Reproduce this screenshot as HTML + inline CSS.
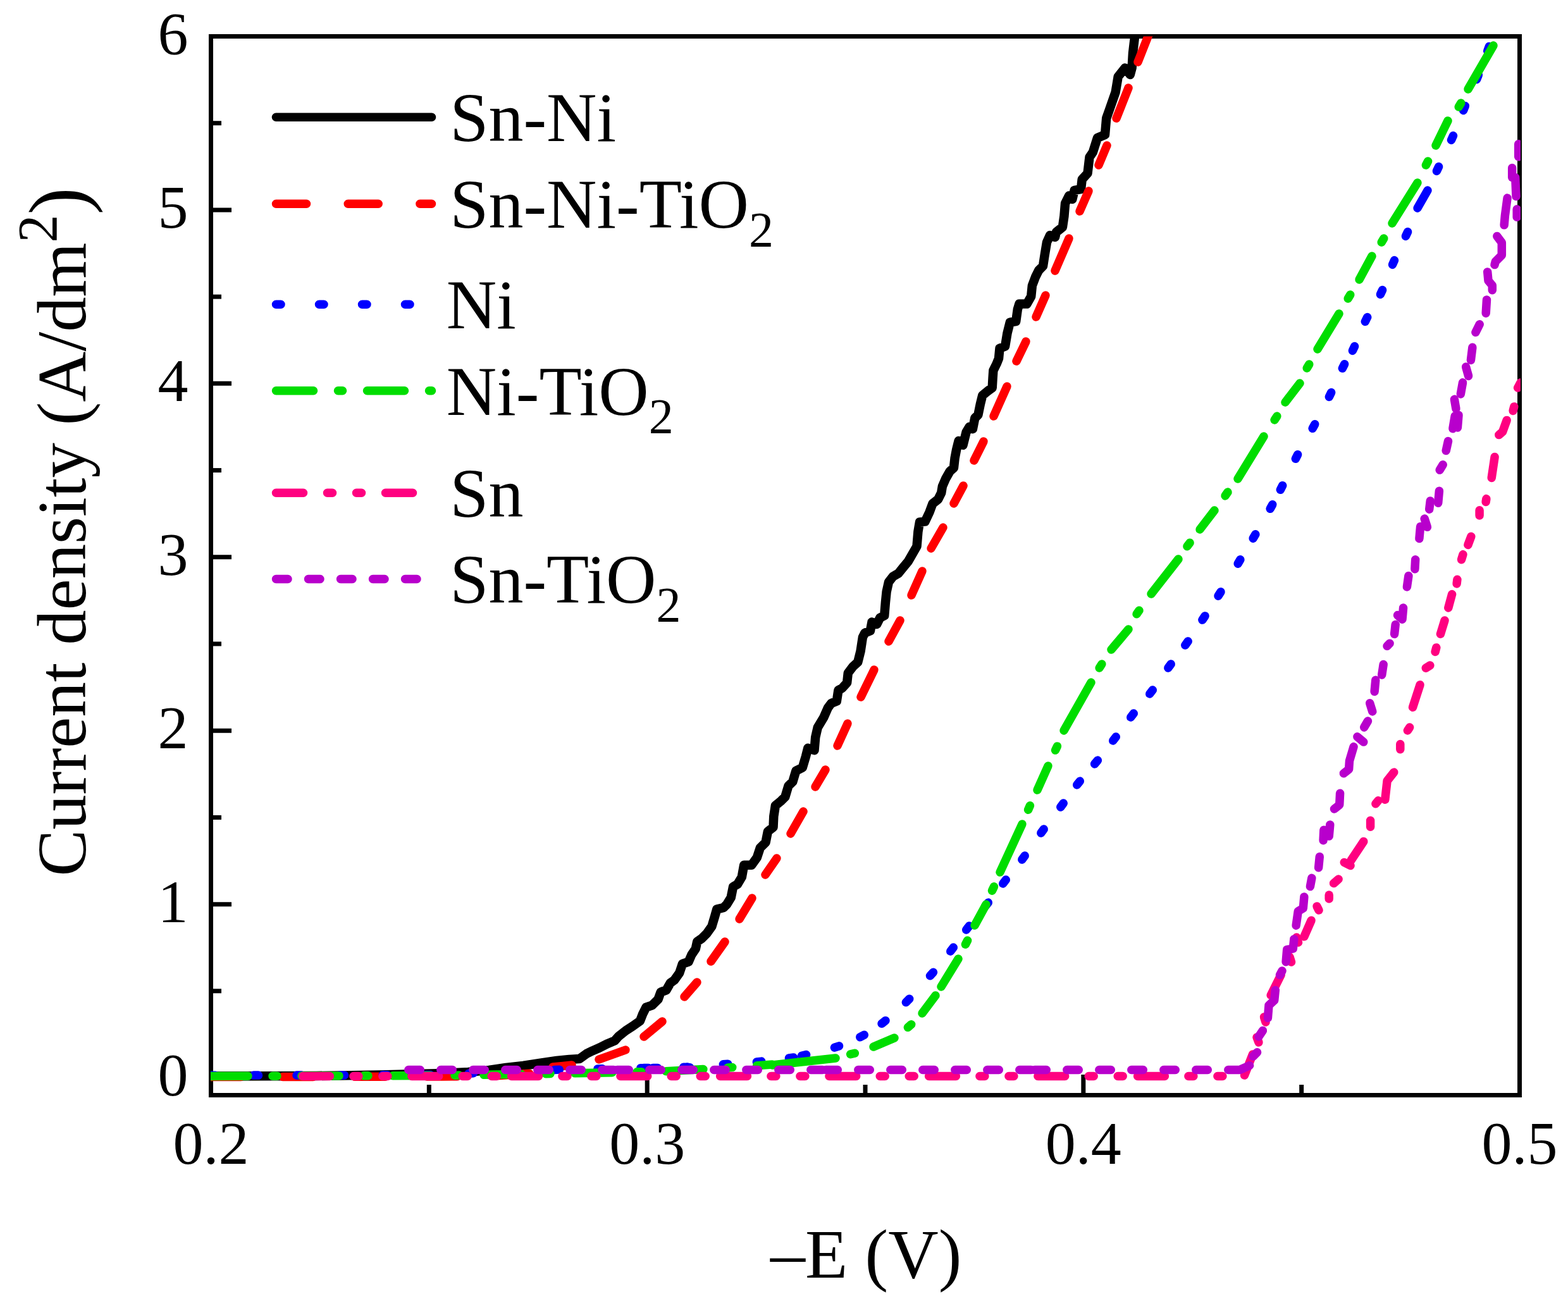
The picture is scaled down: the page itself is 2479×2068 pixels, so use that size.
<!DOCTYPE html>
<html><head><meta charset="utf-8"><title>Current density vs -E</title>
<style>
html,body{margin:0;padding:0;background:#fff;}
svg{display:block;}
text{font-family:"Liberation Serif","Times New Roman",serif;fill:#000;}
.tk{font-size:96px;}
.lg{font-size:110px;}
.ti{font-size:110px;}
</style></head><body>
<svg width="2479" height="2068" viewBox="0 0 2479 2068">
<rect width="2479" height="2068" fill="#fff"/>
<defs><clipPath id="pc"><rect x="333" y="57.5" width="2071" height="1674.0"/></clipPath></defs>
<g stroke="#000" stroke-width="7" fill="none">
<rect x="333.5" y="57.5" width="2069.0" height="1674.0" stroke-linejoin="miter"/>
<line x1="333.5" y1="1704.06" x2="366" y2="1704.06"/>
<line x1="333.5" y1="1566.84" x2="350" y2="1566.84"/>
<line x1="333.5" y1="1429.63" x2="366" y2="1429.63"/>
<line x1="333.5" y1="1292.42" x2="350" y2="1292.42"/>
<line x1="333.5" y1="1155.20" x2="366" y2="1155.20"/>
<line x1="333.5" y1="1017.99" x2="350" y2="1017.99"/>
<line x1="333.5" y1="880.78" x2="366" y2="880.78"/>
<line x1="333.5" y1="743.57" x2="350" y2="743.57"/>
<line x1="333.5" y1="606.35" x2="366" y2="606.35"/>
<line x1="333.5" y1="469.14" x2="350" y2="469.14"/>
<line x1="333.5" y1="331.93" x2="366" y2="331.93"/>
<line x1="333.5" y1="194.71" x2="350" y2="194.71"/>
<line x1="1023.17" y1="1731.5" x2="1023.17" y2="1699"/>
<line x1="1712.83" y1="1731.5" x2="1712.83" y2="1699"/>
<line x1="678.33" y1="1731.5" x2="678.33" y2="1715"/>
<line x1="1368.00" y1="1731.5" x2="1368.00" y2="1715"/>
<line x1="2057.67" y1="1731.5" x2="2057.67" y2="1715"/>
</g>
<g clip-path="url(#pc)" fill="none" stroke-width="13.5" stroke-linecap="round" stroke-linejoin="round">
<polyline stroke-width="14.5" points="333,1701.4 500,1701 600,1699.5 700,1697 740,1695 773,1692 800,1688 827,1685 853,1681 880,1677 900,1674.9 916,1674.1 927.2,1666.1 936.8,1661.3 947.9,1656.5 960.7,1650.1 971.9,1645.3 978.3,1638.2 989.5,1629.4 1000.7,1622.2 1011.9,1614.2 1015.9,1603.8 1021.5,1592.6 1031,1589.4 1040.6,1579.8 1044.6,1568.6 1053.4,1565.4 1059.8,1554.2 1066.2,1549.5 1074.2,1538.3 1079,1523.9 1088.6,1520.7 1093.4,1509.5 1099.8,1499.9 1102.2,1488.7 1109.4,1483.9 1117.4,1475.9 1125.3,1464.8 1130.1,1448.8 1133.3,1437.6 1144,1435 1149.3,1429.6 1155.7,1419 1159.1,1402 1166,1398 1172.8,1386.6 1176.2,1367.7 1188.2,1367.7 1196.8,1355.8 1201.9,1340.3 1210.5,1331.8 1213.9,1314.7 1222.5,1307.8 1223.3,1290.7 1225.9,1273.6 1234.5,1266.7 1241.3,1259.9 1246.4,1242.7 1253.3,1235.9 1258.4,1218.8 1268.7,1213.6 1273.8,1196.5 1277.3,1182.8 1287.5,1186.2 1289.2,1165.7 1292.7,1150.3 1302.3,1134.2 1309.1,1118.8 1314.2,1112 1322.8,1108.6 1325.4,1091.4 1331.4,1088 1339.1,1079.5 1340.8,1064 1348.5,1053.8 1356.2,1046.9 1360.5,1029.8 1363.9,1007.5 1367.3,1000.7 1375.9,997.3 1378.5,983.6 1386.2,987 1391.3,976.7 1398.2,973.3 1399.9,952.7 1401.6,935.6 1405,920.2 1411.8,911.6 1420.4,906.5 1427.3,897.9 1435.8,887.7 1442.7,875.7 1449.5,863.7 1451.4,840.8 1454,825.4 1462.5,824.6 1469.4,810 1474.5,796.3 1483.1,789.5 1488.2,779.2 1489.9,768.9 1495.1,756.9 1501.9,744.9 1507.9,739.8 1509.6,724.4 1512.2,710.7 1515.6,697 1522.5,703.8 1527.6,683.3 1532.7,674.7 1537.9,678.2 1541.3,661 1546.4,655.9 1549.9,638.8 1553.3,625.1 1561.8,618.2 1568.7,613.1 1569.6,597.7 1570.4,585.7 1575.5,575.4 1579,566.8 1580.5,550.8 1589.1,547.4 1592.5,526.8 1596.8,509.7 1606.2,508 1608.8,489.2 1611.4,480.6 1623.4,480.6 1630.2,468.6 1631.9,451.5 1637.1,437.8 1642.2,427.5 1649,420.7 1651.6,403.6 1655,383 1660,372 1668,375 1670,367 1679.9,359 1682.4,341.9 1684.1,321.4 1690.1,309.4 1695.3,315 1698.7,300.8 1709,299.1 1710.7,283.7 1719.5,274 1722.5,248.6 1727.9,240.4 1735,218 1747,213 1749.2,187 1754,173.3 1763.6,145.9 1767.7,121.2 1778.6,107.5 1786.8,118 1789.6,107.5 1791,84.2 1793.7,61 1795,50" stroke="#000000"/>
<polyline points="333,1702.5 500,1702.5 700,1702 780,1701 840,1697" stroke="#ff0000" stroke-dasharray="48 66" stroke-dashoffset="0"/>
<polyline points="874,1687 890,1685.5 904,1684" stroke="#ff0000"/>
<line x1="947" y1="1675" x2="989" y2="1660" stroke="#ff0000"/>
<line x1="1018" y1="1639" x2="1047" y2="1615" stroke="#ff0000"/>
<line x1="1082" y1="1576" x2="1102" y2="1553" stroke="#ff0000"/>
<line x1="1124" y1="1520" x2="1146" y2="1489" stroke="#ff0000"/>
<line x1="1169" y1="1453" x2="1189" y2="1420" stroke="#ff0000"/>
<line x1="1210" y1="1383" x2="1228" y2="1357" stroke="#ff0000"/>
<line x1="1250" y1="1318" x2="1270" y2="1283" stroke="#ff0000"/>
<line x1="1289" y1="1244" x2="1305" y2="1217" stroke="#ff0000"/>
<line x1="1324" y1="1179" x2="1340" y2="1144" stroke="#ff0000"/>
<line x1="1361" y1="1102" x2="1382" y2="1059" stroke="#ff0000"/>
<line x1="1405" y1="1014" x2="1423" y2="981" stroke="#ff0000"/>
<line x1="1441" y1="941" x2="1458" y2="903" stroke="#ff0000"/>
<line x1="1472" y1="867" x2="1491" y2="834" stroke="#ff0000"/>
<line x1="1508" y1="796" x2="1523" y2="768" stroke="#ff0000"/>
<line x1="1540" y1="728" x2="1555" y2="698" stroke="#ff0000"/>
<line x1="1571" y1="658" x2="1592" y2="611" stroke="#ff0000"/>
<line x1="1607" y1="571" x2="1622" y2="540" stroke="#ff0000"/>
<line x1="1638" y1="501" x2="1653" y2="467" stroke="#ff0000"/>
<line x1="1668" y1="428" x2="1690" y2="377" stroke="#ff0000"/>
<line x1="1707" y1="334" x2="1721" y2="302" stroke="#ff0000"/>
<line x1="1737" y1="261" x2="1750" y2="230" stroke="#ff0000"/>
<line x1="1765" y1="187" x2="1784" y2="139" stroke="#ff0000"/>
<line x1="1799" y1="98" x2="1818" y2="50" stroke="#ff0000"/>
<polyline points="333,1700.2 500,1700 700,1699.5 800,1694 888,1691 1000,1689 1087,1687 1000,1689" stroke="#0000ff" stroke-dasharray="7.5 60.5" stroke-dashoffset="0"/>
<line x1="1032.3" y1="1688.5" x2="1039.7" y2="1688.5" stroke="#0000ff"/>
<line x1="1083.3" y1="1688.2" x2="1090.7" y2="1687.8" stroke="#0000ff"/>
<line x1="1143.3" y1="1682.8" x2="1150.7" y2="1682.2" stroke="#0000ff"/>
<line x1="1196.3" y1="1678.9" x2="1203.7" y2="1678.1" stroke="#0000ff"/>
<line x1="1247.3" y1="1673.0" x2="1254.7" y2="1672.0" stroke="#0000ff"/>
<line x1="1267.4" y1="1669.4" x2="1274.6" y2="1667.6" stroke="#0000ff"/>
<line x1="1319.4" y1="1656.2" x2="1326.6" y2="1653.8" stroke="#0000ff"/>
<line x1="1359.7" y1="1639.7" x2="1366.3" y2="1636.3" stroke="#0000ff"/>
<line x1="1394.0" y1="1618.3" x2="1400.0" y2="1613.7" stroke="#0000ff"/>
<line x1="1432.3" y1="1584.7" x2="1437.7" y2="1579.3" stroke="#0000ff"/>
<line x1="1470.5" y1="1542.8" x2="1475.5" y2="1537.2" stroke="#0000ff"/>
<line x1="1502.7" y1="1504.0" x2="1507.3" y2="1498.0" stroke="#0000ff"/>
<line x1="1527.7" y1="1470.0" x2="1532.3" y2="1464.0" stroke="#0000ff"/>
<line x1="1557.7" y1="1432.9" x2="1562.3" y2="1427.1" stroke="#0000ff"/>
<line x1="1585.7" y1="1397.0" x2="1590.3" y2="1391.0" stroke="#0000ff"/>
<line x1="1615.8" y1="1359.0" x2="1620.2" y2="1353.0" stroke="#0000ff"/>
<line x1="1645.8" y1="1317.0" x2="1650.2" y2="1311.0" stroke="#0000ff"/>
<line x1="1676.8" y1="1276.0" x2="1681.2" y2="1270.0" stroke="#0000ff"/>
<line x1="1702.7" y1="1240.9" x2="1707.3" y2="1235.1" stroke="#0000ff"/>
<line x1="1730.6" y1="1207.9" x2="1735.4" y2="1202.1" stroke="#0000ff"/>
<line x1="1759.7" y1="1171.0" x2="1764.3" y2="1165.0" stroke="#0000ff"/>
<line x1="1787.7" y1="1134.0" x2="1792.3" y2="1128.0" stroke="#0000ff"/>
<line x1="1817.7" y1="1097.0" x2="1822.3" y2="1091.0" stroke="#0000ff"/>
<line x1="1846.8" y1="1056.0" x2="1851.2" y2="1050.0" stroke="#0000ff"/>
<line x1="1873.8" y1="1020.1" x2="1878.2" y2="1013.9" stroke="#0000ff"/>
<line x1="1900.9" y1="980.1" x2="1905.1" y2="973.9" stroke="#0000ff"/>
<line x1="1926.0" y1="942.2" x2="1930.0" y2="935.8" stroke="#0000ff"/>
<line x1="1957.1" y1="891.2" x2="1960.9" y2="884.8" stroke="#0000ff"/>
<line x1="1981.1" y1="851.2" x2="1984.9" y2="844.8" stroke="#0000ff"/>
<line x1="2008.2" y1="804.3" x2="2011.8" y2="797.7" stroke="#0000ff"/>
<line x1="2024.3" y1="774.3" x2="2027.7" y2="767.7" stroke="#0000ff"/>
<line x1="2048.3" y1="725.3" x2="2051.7" y2="718.7" stroke="#0000ff"/>
<line x1="2075.2" y1="677.3" x2="2078.8" y2="670.7" stroke="#0000ff"/>
<line x1="2101.3" y1="627.4" x2="2104.7" y2="620.6" stroke="#0000ff"/>
<line x1="2122.3" y1="582.3" x2="2125.7" y2="575.7" stroke="#0000ff"/>
<line x1="2138.4" y1="554.4" x2="2141.6" y2="547.6" stroke="#0000ff"/>
<line x1="2158.3" y1="508.4" x2="2161.7" y2="501.6" stroke="#0000ff"/>
<line x1="2182.4" y1="465.4" x2="2185.6" y2="458.6" stroke="#0000ff"/>
<line x1="2201.5" y1="418.4" x2="2204.5" y2="411.6" stroke="#0000ff"/>
<line x1="2222.4" y1="373.4" x2="2225.6" y2="366.6" stroke="#0000ff"/>
<line x1="2241" y1="329" x2="2257" y2="301" stroke="#0000ff"/>
<line x1="2271.4" y1="270.4" x2="2274.6" y2="263.6" stroke="#0000ff"/>
<line x1="2294.5" y1="221.4" x2="2297.5" y2="214.6" stroke="#0000ff"/>
<line x1="2313.6" y1="174.5" x2="2316.4" y2="167.5" stroke="#0000ff"/>
<line x1="2334.6" y1="125.5" x2="2337.4" y2="118.5" stroke="#0000ff"/>
<line x1="2351.7" y1="80.5" x2="2354.3" y2="73.5" stroke="#0000ff"/>
<polyline points="333,1701.4 700,1700.5 900,1697 1050,1694 1120,1690 1180,1686 1221,1683" stroke="#00dd00" stroke-dasharray="59 39 7 39" stroke-dashoffset="0"/>
<line x1="1221" y1="1684" x2="1321" y2="1673" stroke="#00dd00"/>
<line x1="1344.6" y1="1666.8" x2="1351.4" y2="1665.2" stroke="#00dd00"/>
<line x1="1381" y1="1655" x2="1414" y2="1641" stroke="#00dd00"/>
<line x1="1435.3" y1="1624.3" x2="1440.7" y2="1619.7" stroke="#00dd00"/>
<line x1="1458" y1="1602" x2="1479" y2="1574" stroke="#00dd00"/>
<line x1="1488" y1="1560" x2="1515" y2="1516" stroke="#00dd00"/>
<line x1="1526.4" y1="1493.1" x2="1529.6" y2="1486.9" stroke="#00dd00"/>
<line x1="1541" y1="1463" x2="1559" y2="1430" stroke="#00dd00"/>
<line x1="1568.5" y1="1408.2" x2="1571.5" y2="1401.8" stroke="#00dd00"/>
<line x1="1581" y1="1379" x2="1616" y2="1303" stroke="#00dd00"/>
<line x1="1625.6" y1="1280.2" x2="1628.4" y2="1273.8" stroke="#00dd00"/>
<line x1="1640" y1="1249" x2="1657" y2="1211" stroke="#00dd00"/>
<line x1="1668.5" y1="1186.1" x2="1671.5" y2="1179.9" stroke="#00dd00"/>
<line x1="1682" y1="1155" x2="1725" y2="1079" stroke="#00dd00"/>
<line x1="1738.1" y1="1056.0" x2="1741.9" y2="1050.0" stroke="#00dd00"/>
<line x1="1757" y1="1027" x2="1784" y2="995" stroke="#00dd00"/>
<line x1="1797.0" y1="970.8" x2="1801.0" y2="965.2" stroke="#00dd00"/>
<line x1="1820" y1="939" x2="1863" y2="884" stroke="#00dd00"/>
<line x1="1876.9" y1="863.8" x2="1881.1" y2="858.2" stroke="#00dd00"/>
<line x1="1897" y1="837" x2="1920" y2="807" stroke="#00dd00"/>
<line x1="1937.0" y1="783.9" x2="1941.0" y2="778.1" stroke="#00dd00"/>
<line x1="1957" y1="757" x2="1998" y2="690" stroke="#00dd00"/>
<line x1="2015.1" y1="663.9" x2="2018.9" y2="658.1" stroke="#00dd00"/>
<line x1="2032" y1="636" x2="2055" y2="606" stroke="#00dd00"/>
<line x1="2066.2" y1="582.0" x2="2069.8" y2="576.0" stroke="#00dd00"/>
<line x1="2083" y1="552" x2="2117" y2="496" stroke="#00dd00"/>
<line x1="2131.2" y1="472.0" x2="2134.8" y2="466.0" stroke="#00dd00"/>
<line x1="2149" y1="442" x2="2169" y2="405" stroke="#00dd00"/>
<line x1="2184.2" y1="383.0" x2="2187.8" y2="377.0" stroke="#00dd00"/>
<line x1="2201" y1="353" x2="2241" y2="289" stroke="#00dd00"/>
<line x1="2254.4" y1="261.1" x2="2257.6" y2="254.9" stroke="#00dd00"/>
<line x1="2270" y1="230" x2="2289" y2="191" stroke="#00dd00"/>
<line x1="2306.2" y1="169.0" x2="2309.8" y2="163.0" stroke="#00dd00"/>
<line x1="2321" y1="141" x2="2361" y2="72" stroke="#00dd00"/>
<line x1="478.6" y1="1701.4" x2="808.6" y2="1701.4" stroke="#ff0080" stroke-dasharray="42.8 37.5 8 38 8 38"/>
<line x1="808.6" y1="1701.4" x2="1138.6" y2="1701.4" stroke="#ff0080" stroke-dasharray="42.8 37.5 8 38 8 38"/>
<line x1="1138.6" y1="1701.4" x2="1468.6" y2="1701.4" stroke="#ff0080" stroke-dasharray="42.8 37.5 8 38 8 38"/>
<line x1="1468.6" y1="1701.4" x2="1798.6" y2="1701.4" stroke="#ff0080" stroke-dasharray="42.8 37.5 8 38 8 38"/>
<line x1="1798.6" y1="1701.4" x2="1962.0" y2="1701.4" stroke="#ff0080" stroke-dasharray="42.8 37.5 8 38 8 38"/>
<polyline points="1967.5,1700 1980.5,1667" stroke="#ff0080"/>
<polyline points="1990,1648 1987,1640" stroke="#ff0080"/>
<polyline points="2001,1616 1998.5,1608" stroke="#ff0080"/>
<polyline points="2009.2,1573.5 2025.1,1541.5" stroke="#ff0080"/>
<polyline points="2041.5,1521 2039,1513" stroke="#ff0080"/>
<polyline points="2052.5,1490 2050,1482" stroke="#ff0080"/>
<polyline points="2061.9,1480.8 2073.1,1455.2" stroke="#ff0080"/>
<polyline points="2085,1439 2082,1433" stroke="#ff0080"/>
<polyline points="2101.2,1421 2101.2,1415" stroke="#ff0080"/>
<polyline points="2108.6,1396.6 2116.1,1390" stroke="#ff0080"/>
<polyline points="2125.2,1363.5 2135.1,1368.5" stroke="#ff0080"/>
<polyline points="2136,1360.2 2155.8,1330.4" stroke="#ff0080"/>
<polyline points="2166.6,1297.3 2166.6,1307.2" stroke="#ff0080"/>
<polyline points="2174.9,1270.8 2179,1265.8" stroke="#ff0080"/>
<polyline points="2189.8,1264.2 2193.1,1234.4 2203.8,1221.1" stroke="#ff0080"/>
<polyline points="2213.8,1176.4 2213.8,1184.7" stroke="#ff0080"/>
<polyline points="2225.4,1154.9 2228.7,1150" stroke="#ff0080"/>
<polyline points="2245.1,1082.7 2233.5,1118.3" stroke="#ff0080"/>
<polyline points="2260.9,1052 2254.2,1056.2" stroke="#ff0080"/>
<polyline points="2270.8,1023.9 2269.1,1030.5" stroke="#ff0080"/>
<polyline points="2284,980.9 2277.4,1002.4" stroke="#ff0080"/>
<polyline points="2295.6,939.5 2289.8,961" stroke="#ff0080"/>
<polyline points="2303.9,916.3 2303.1,922.9" stroke="#ff0080"/>
<polyline points="2313,876.6 2310.5,884.8" stroke="#ff0080"/>
<polyline points="2325.9,848.2 2320.9,861.5" stroke="#ff0080"/>
<polyline points="2339.1,806.8 2339.1,815.1" stroke="#ff0080"/>
<polyline points="2349.9,788.6 2349.1,793.6" stroke="#ff0080"/>
<polyline points="2363.1,722.4 2358.2,755.5" stroke="#ff0080"/>
<polyline points="2382.2,664.4 2375.6,682.6 2369.8,687.6" stroke="#ff0080"/>
<polyline points="2393.8,642.9 2392.1,649.5" stroke="#ff0080"/>
<polyline points="2399.6,613.1 2404,605" stroke="#ff0080"/>
<line x1="645.8" y1="1691.4" x2="975.8" y2="1691.4" stroke="#b800cc" stroke-dasharray="18.5 32.5"/>
<line x1="975.8" y1="1691.4" x2="1305.8" y2="1691.4" stroke="#b800cc" stroke-dasharray="18.5 32.5"/>
<line x1="1305.8" y1="1691.4" x2="1635.8" y2="1691.4" stroke="#b800cc" stroke-dasharray="18.5 32.5"/>
<line x1="1635.8" y1="1691.4" x2="1962.0" y2="1691.4" stroke="#b800cc" stroke-dasharray="18.5 32.5"/>
<polyline points="1962.8,1690.2 1975.6,1684.6" stroke="#b800cc"/>
<polyline points="1987.6,1663.8 1981.2,1670.2" stroke="#b800cc"/>
<polyline points="1996.4,1629.4 1990,1639" stroke="#b800cc"/>
<polyline points="2016.3,1565.5 2014.7,1581.5 2006,1589.5 2004.4,1609.4" stroke="#b800cc"/>
<polyline points="2027,1535 2023.5,1541.5" stroke="#b800cc"/>
<polyline points="2045.9,1484.7 2044.3,1499.9 2034.7,1501.5 2033.1,1520.7" stroke="#b800cc"/>
<polyline points="2061.9,1418 2060.3,1436 2052.3,1440.8 2049.1,1463.2" stroke="#b800cc"/>
<polyline points="2073.9,1388.3 2071.4,1401.6" stroke="#b800cc"/>
<polyline points="2086.3,1354.4 2084.6,1371.8" stroke="#b800cc"/>
<polyline points="2102.8,1303.9 2101.2,1322.1" stroke="#b800cc"/>
<polyline points="2092.9,1312.2 2092.1,1328.7" stroke="#b800cc"/>
<polyline points="2118.6,1254.2 2117.7,1272.5 2109.5,1279.1" stroke="#b800cc"/>
<polyline points="2140.1,1180.6 2133.5,1202.9 2132.6,1216.2 2124.4,1222.8" stroke="#b800cc"/>
<polyline points="2145.9,1164.8 2155.8,1173.1" stroke="#b800cc"/>
<polyline points="2162.5,1140 2156.7,1149.9" stroke="#b800cc"/>
<polyline points="2165.7,1111.7 2169.8,1124.9" stroke="#b800cc"/>
<polyline points="2174.8,1075.2 2173.1,1093.4" stroke="#b800cc"/>
<polyline points="2187.2,1050.4 2184.7,1067" stroke="#b800cc"/>
<polyline points="2197.1,1017.3 2193,1021.4" stroke="#b800cc"/>
<polyline points="2206.2,987.5 2204.6,1002.4" stroke="#b800cc"/>
<polyline points="2218.6,961 2217,979.2" stroke="#b800cc"/>
<polyline points="2209.5,972.6 2213,976" stroke="#b800cc"/>
<polyline points="2226.9,910.5 2224.4,927.9" stroke="#b800cc"/>
<polyline points="2237.7,884.8 2236.9,899.7" stroke="#b800cc"/>
<polyline points="2245.6,832.5 2243.9,851.5" stroke="#b800cc"/>
<polyline points="2252.2,820.1 2256.4,833.3" stroke="#b800cc"/>
<polyline points="2261.3,791.9 2259.7,805.2" stroke="#b800cc"/>
<polyline points="2275.4,776.2 2273.7,795.2" stroke="#b800cc"/>
<polyline points="2281.2,734.8 2276.2,743.1" stroke="#b800cc"/>
<polyline points="2289.5,697.5 2286.2,712.5" stroke="#b800cc"/>
<polyline points="2300.2,657.8 2296.9,677.7" stroke="#b800cc"/>
<polyline points="2306,656.2 2304.4,676" stroke="#b800cc"/>
<polyline points="2299.4,631.3 2301.9,646.2" stroke="#b800cc"/>
<polyline points="2312.6,604.8 2309.3,623" stroke="#b800cc"/>
<polyline points="2317.6,580 2321.6,594.4" stroke="#b800cc"/>
<polyline points="2327.9,549.2 2325.4,569.4" stroke="#b800cc"/>
<polyline points="2339.2,512.8 2332.9,525.4" stroke="#b800cc"/>
<polyline points="2350.5,473.9 2349.2,495.2" stroke="#b800cc"/>
<polyline points="2351.7,429.9 2353,443.7 2359.3,451.3 2359.3,458.8" stroke="#b800cc"/>
<polyline points="2366.8,373.4 2374.3,383.5 2374.3,403.6 2364.3,413.6 2363,418.6" stroke="#b800cc"/>
<polyline points="2383.1,313.1 2379.4,340.8 2378.1,355.8" stroke="#b800cc"/>
<polyline points="2390.7,265.4 2390.7,280.5" stroke="#b800cc"/>
<polyline points="2395.7,280.5 2397,310.6" stroke="#b800cc"/>
<polyline points="2398.2,330.7 2398.2,343.3" stroke="#b800cc"/>
<polyline points="2400.7,227.7 2400.7,247.8" stroke="#b800cc"/>
</g>
<g class="tk">
<text x="297.5" y="1732.1" text-anchor="end">0</text>
<text x="297.5" y="1457.6" text-anchor="end">1</text>
<text x="297.5" y="1183.2" text-anchor="end">2</text>
<text x="297.5" y="908.8" text-anchor="end">3</text>
<text x="297.5" y="634.4" text-anchor="end">4</text>
<text x="297.5" y="359.9" text-anchor="end">5</text>
<text x="297.5" y="85.5" text-anchor="end">6</text>
<text x="333.5" y="1840" text-anchor="middle">0.2</text>
<text x="1023.2" y="1840" text-anchor="middle">0.3</text>
<text x="1712.8" y="1840" text-anchor="middle">0.4</text>
<text x="2402.5" y="1840" text-anchor="middle">0.5</text>
</g>
<g fill="none" stroke-width="13.5" stroke-linecap="round">
<line x1="436.5" y1="185.2" x2="682.5" y2="185.2" stroke="#000000"/>
<line x1="436.5" y1="322.2" x2="682.5" y2="322.2" stroke="#ff0000" stroke-dasharray="48 65.7"/>
<line x1="436.5" y1="481.2" x2="682.5" y2="481.2" stroke="#0000ff" stroke-dasharray="7.5 60.5"/>
<line x1="436.5" y1="617.8" x2="682.5" y2="617.8" stroke="#00dd00" stroke-dasharray="59 39 7 39"/>
<line x1="436.5" y1="779.3" x2="682.5" y2="779.3" stroke="#ff0080" stroke-dasharray="43 38 8 38 8 38"/>
<line x1="436.5" y1="915.5" x2="682.5" y2="915.5" stroke="#b800cc" stroke-dasharray="18.5 32.5"/>
</g>
<text x="711.3" y="223.0" class="lg">Sn-Ni</text>
<text x="711.3" y="360.0" class="lg">Sn-Ni-TiO<tspan dy="28.8" font-size="78">2</tspan></text>
<text x="705.8" y="519.0" class="lg">Ni</text>
<text x="705.8" y="655.6" class="lg">Ni-TiO<tspan dy="28.8" font-size="78">2</tspan></text>
<text x="711.3" y="817.1" class="lg">Sn</text>
<text x="711.3" y="953.3" class="lg">Sn-TiO<tspan dy="28.8" font-size="78">2</tspan></text>
<text class="ti" x="1217.9" y="2020"><tspan dy="-2.5">&#8211;</tspan><tspan dy="2.5">E (V)</tspan></text>
<text transform="translate(134.7,1385.6) rotate(-90)" style="font-size:110.7px">Current density (A/dm<tspan dy="-45.9" font-size="88">2</tspan><tspan dy="45.9" font-size="130">)</tspan></text>
</svg>
</body></html>
